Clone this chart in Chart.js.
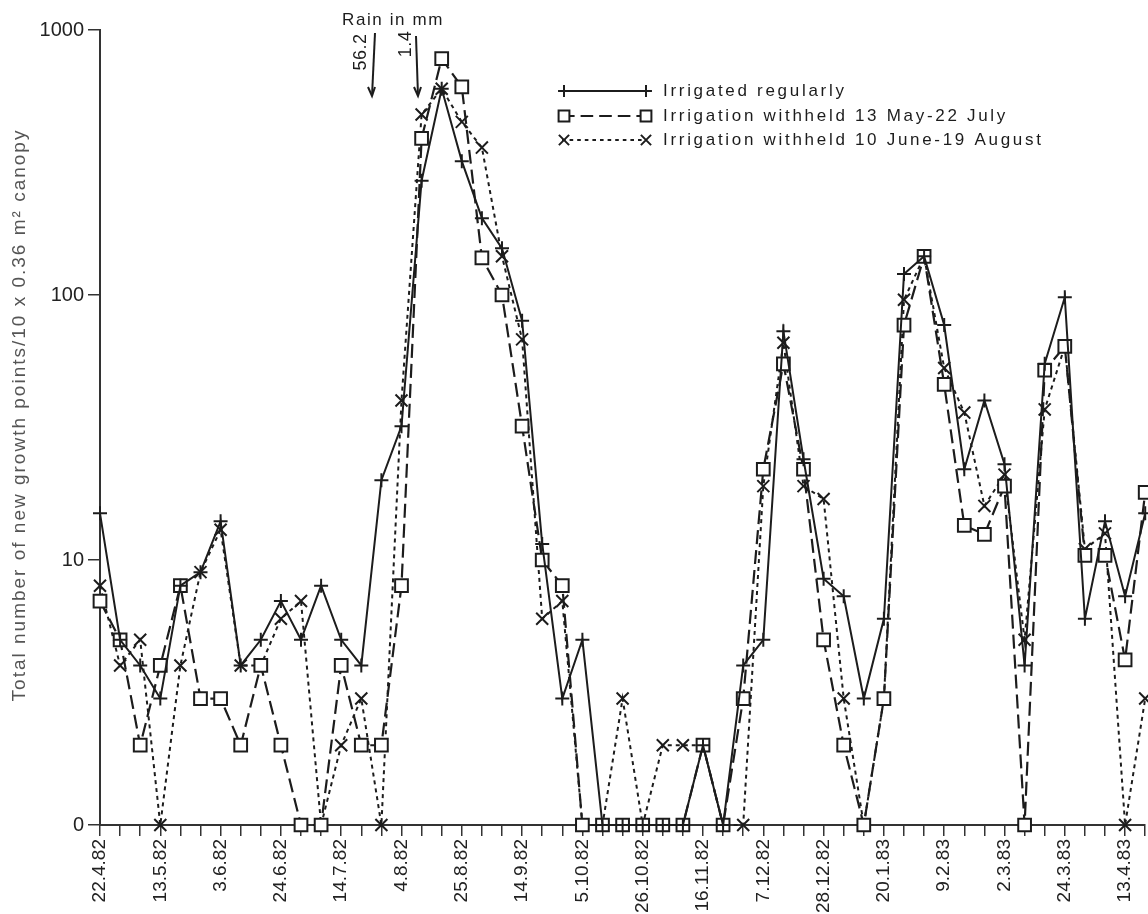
<!DOCTYPE html>
<html>
<head>
<meta charset="utf-8">
<script src="https://cdn.jsdelivr.net/npm/chart.js@4.4.1/dist/chart.umd.min.js"></script>
<style>
  html, body { margin: 0; padding: 0; background: #fff; overflow: hidden; width: 1148px; height: 914px; }
  #wrap { position: relative; width: 1148px; height: 914px; overflow: hidden; }
  canvas { display: block; position: absolute; left: 0; top: 0; }
</style>
</head>
<body>
<div id="wrap"><canvas id="growthChart" width="1148" height="914"></canvas></div>
<script>
// sampling dates, labelled every third week on the x axis
const dateLabels = ['22.4.82', '13.5.82', '3.6.82', '24.6.82', '14.7.82', '4.8.82', '25.8.82', '14.9.82',
    '5.10.82', '26.10.82', '16.11.82', '7.12.82', '28.12.82', '20.1.83', '9.2.83', '2.3.83', '24.3.83', '13.4.83'];
const weekCount = 53;

const yTickValues = [1, 10, 100, 1000];
const yTickLabels = ['0', '10', '100', '1000'];

// new growth points per sample (0 sits on the baseline)
const irrigatedRegularly = [15, 5, 4, 3, 8, 9, 14, 4, 5, 7, 5, 8, 5, 4, 20, 32, 270, 600, 320, 195, 150, 80, 11.5, 3, 5,
    0, 0, 0, 0, 0, 2, 0, 4, 5, 73, 24, 8.5, 7.3, 3, 6, 120, 140, 77, 22, 40, 23, 4, 55, 98, 6, 14, 7.3, 15];
const withheldMayJuly = [7, 5, 2, 4, 8, 3, 3, 2, 4, 2, 0, 0, 4, 2, 2, 8, 390, 780, 610, 138, 100, 32, 10, 8, 0,
    0, 0, 0, 0, 0, 2, 0, 3, 22, 55, 22, 5, 2, 0, 3, 77, 140, 46, 13.5, 12.5, 19, 0, 52, 64, 10.4, 10.4, 4.2, 18];
const withheldJuneAugust = [8, 4, 5, 0, 4, 9, 13, 4, 4, 6, 7, 0, 2, 3, 0, 40, 480, 600, 450, 360, 140, 68, 6, 7, 0,
    0, 3, 0, 2, 2, 2, 0, 0, 19, 66, 19, 17, 3, 0, 3, 96, 140, 53, 36, 16, 21, 5, 37, 64, 11, 12.6, 0, 3];

const seriesNames = ['Irrigated regularly', 'Irrigation withheld 13 May-22 July', 'Irrigation withheld 10 June-19 August'];

const FONT = "'Liberation Sans', Arial, Helvetica, sans-serif";
const INK = '#1c1c1c';
const LAST_POINT_X = 1145;

const weekLabels = [];
for (let i = 0; i < weekCount; i++) {
    weekLabels.push(i % 3 === 0 ? dateLabels[i / 3] : '');
}

// log axis cannot show zero, so zero counts are drawn on the "0" baseline
const toPlot = arr => arr.map(v => (v === 0 ? 1 : v));

const styles = [
    { pointStyle: 'cross', radius: 7, dash: [], width: 2 },
    { pointStyle: 'rect', radius: 9, dash: [14, 6], width: 2.2 },
    { pointStyle: 'crossRot', radius: 8.5, dash: [4, 4], width: 2 }
];

function makeDataset(label, values, st) {
    return {
        label: label,
        data: toPlot(values),
        borderColor: INK,
        borderWidth: st.width,
        borderDash: st.dash,
        backgroundColor: '#fff',
        pointStyle: st.pointStyle,
        pointRadius: st.radius,
        pointBorderWidth: 2,
        pointBorderColor: INK,
        pointBackgroundColor: '#fff',
        tension: 0,
        clip: false
    };
}

const annotations = {
    id: 'annotations',
    afterDraw(chart) {
        const ctx = chart.ctx;
        ctx.save();
        ctx.fillStyle = INK;
        ctx.strokeStyle = INK;

        // y axis title
        ctx.save();
        ctx.translate(20, 415);
        ctx.rotate(-Math.PI / 2);
        ctx.font = '19px ' + FONT;
        ctx.letterSpacing = '2px';
        ctx.fillStyle = '#555';
        ctx.textAlign = 'center';
        ctx.textBaseline = 'middle';
        ctx.fillText('Total number of new growth points/10 x 0.36 m\u00b2 canopy', 0, 0);
        ctx.restore();

        // rain notes
        ctx.font = '17px ' + FONT;
        ctx.letterSpacing = '1.6px';
        ctx.textAlign = 'left';
        ctx.textBaseline = 'middle';
        ctx.fillText('Rain in mm', 342, 20);

        ctx.font = '18px ' + FONT;
        ctx.letterSpacing = '0.5px';
        [['56.2', 361, 52, 375, 33, 372, 96], ['1.4', 406, 44, 416, 36, 418, 96]].forEach(r => {
            ctx.save();
            ctx.translate(r[1], r[2]);
            ctx.rotate(-Math.PI / 2);
            ctx.textAlign = 'center';
            ctx.fillText(r[0], 0, 0);
            ctx.restore();
            ctx.lineWidth = 2;
            ctx.setLineDash([]);
            ctx.beginPath();
            ctx.moveTo(r[3], r[4]);
            ctx.lineTo(r[5], r[6]);
            ctx.stroke();
            ctx.beginPath();
            ctx.moveTo(r[5] - 4, r[6] - 9);
            ctx.lineTo(r[5], r[6]);
            ctx.lineTo(r[5] + 3, r[6] - 9);
            ctx.stroke();
        });

        // legend
        const rows = [91, 116, 140];
        rows.forEach((y, i) => {
            const st = styles[i];
            ctx.lineWidth = st.width;
            ctx.setLineDash(st.dash.length ? [st.dash[0] * 0.9, st.dash[1]] : []);
            ctx.beginPath();
            ctx.moveTo(562, y);
            ctx.lineTo(646, y);
            ctx.stroke();
            ctx.setLineDash([]);
            ctx.fillStyle = '#fff';
            ctx.lineWidth = 2;
            [564, 646].forEach(x => {
                Chart.helpers.drawPoint(ctx, { pointStyle: st.pointStyle, radius: st.radius * 0.85, rotation: 0, borderWidth: 2 }, x, y);
            });
            ctx.fillStyle = INK;
            ctx.font = '17px ' + FONT;
            ctx.letterSpacing = '2.7px';
            ctx.textAlign = 'left';
            ctx.textBaseline = 'middle';
            ctx.fillText(seriesNames[i], 663, y);
        });
        ctx.restore();
    }
};

function buildChart(canvas) {
    return new Chart(canvas, {
        type: 'line',
        data: {
            labels: weekLabels,
            datasets: [
                makeDataset(seriesNames[0], irrigatedRegularly, styles[0]),
                makeDataset(seriesNames[1], withheldMayJuly, styles[1]),
                makeDataset(seriesNames[2], withheldJuneAugust, styles[2])
            ]
        },
        options: {
            responsive: false,
            animation: false,
            devicePixelRatio: 1,
            layout: { padding: { top: 30, right: 1, left: 0, bottom: 0 } },
            plugins: {
                legend: { display: false },
                tooltip: { enabled: false }
            },
            scales: {
                x: {
                    type: 'category',
                    offset: false,
                    grid: { drawOnChartArea: false, drawTicks: true, tickLength: 11, color: '#333', lineWidth: 1.5 },
                    border: { display: true, color: '#333', width: 2 },
                    ticks: {
                        autoSkip: false,
                        minRotation: 90,
                        maxRotation: 90,
                        padding: 3,
                        color: '#222',
                        font: { family: FONT, size: 19 }
                    },
                    afterFit: s => {
                        s.height = 89;
                    }
                },
                y: {
                    type: 'logarithmic',
                    min: 1,
                    max: 1000,
                    afterBuildTicks: s => {
                        s.ticks = yTickValues.map(v => ({ value: v }));
                    },
                    grid: { drawOnChartArea: false, drawTicks: true, tickLength: 12, color: '#333', lineWidth: 1.5 },
                    border: { display: true, color: '#333', width: 2 },
                    ticks: {
                        padding: 4,
                        color: '#222',
                        font: { family: FONT, size: 20 },
                        callback: v => yTickLabels[yTickValues.indexOf(v)]
                    },
                    afterFit: s => {
                        s.width = 100;
                    }
                }
            }
        },
        plugins: [annotations]
    });
}

const canvas = document.getElementById('growthChart');
let chart = buildChart(canvas);

// the last week sits on the page edge in the original (the figure is cut off there);
// the scale keeps room for its last label, so widen the canvas past the window
const extra = Math.round(LAST_POINT_X - chart.scales.x.getPixelForValue(weekCount - 1));
if (extra > 0) {
    chart.destroy();
    canvas.width = 1148 + extra;
    canvas.height = 914;
    canvas.style.width = (1148 + extra) + 'px';
    canvas.style.height = '914px';
    chart = buildChart(canvas);
}
</script>
</body>
</html>
